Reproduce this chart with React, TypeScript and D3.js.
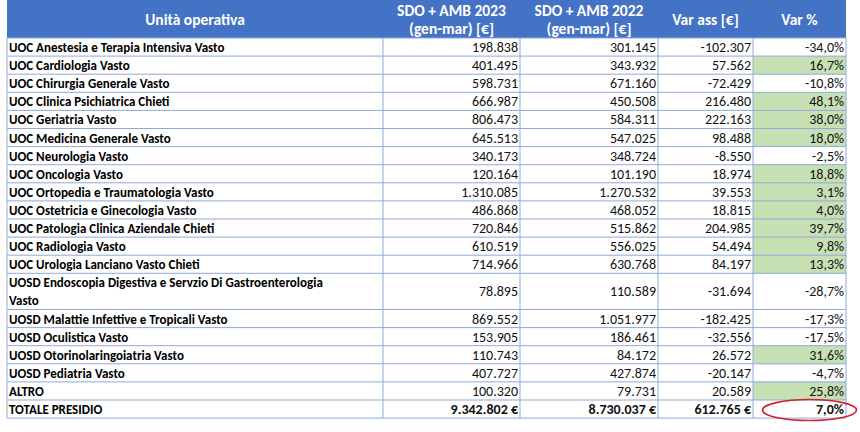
import React from "react";
import * as d3 from "d3";

const units: string[] = [
  "UOC Anestesia e Terapia Intensiva Vasto",
  "UOC Cardiologia Vasto",
  "UOC Chirurgia Generale Vasto",
  "UOC Clinica Psichiatrica Chieti",
  "UOC Geriatria Vasto",
  "UOC Medicina Generale Vasto",
  "UOC Neurologia Vasto",
  "UOC Oncologia Vasto",
  "UOC Ortopedia e Traumatologia Vasto",
  "UOC Ostetricia e Ginecologia Vasto",
  "UOC Patologia Clinica Aziendale Chieti",
  "UOC Radiologia Vasto",
  "UOC Urologia Lanciano Vasto Chieti",
  "UOSD Endoscopia Digestiva e Servzio Di Gastroenterologia|Vasto",
  "UOSD Malattie Infettive e Tropicali Vasto",
  "UOSD Oculistica Vasto",
  "UOSD Otorinolaringoiatria Vasto",
  "UOSD Pediatria Vasto",
  "ALTRO",
];
const sdo2023: number[] = [198838, 401495, 598731, 666987, 806473, 645513, 340173, 120164, 1310085, 486868, 720846, 610519, 714966, 78895, 869552, 153905, 110743, 407727, 100320];
const sdo2022: number[] = [301145, 343932, 671160, 450508, 584311, 547025, 348724, 101190, 1270532, 468052, 515862, 556025, 630768, 110589, 1051977, 186461, 84172, 427874, 79731];
const varAss: number[] = [-102307, 57562, -72429, 216480, 222163, 98488, -8550, 18974, 39553, 18815, 204985, 54494, 84197, -31694, -182425, -32556, 26572, -20147, 20589];
const varPct: number[] = [-34.0, 16.7, -10.8, 48.1, 38.0, 18.0, -2.5, 18.8, 3.1, 4.0, 39.7, 9.8, 13.3, -28.7, -17.3, -17.5, 31.6, -4.7, 25.8];
const totalLabel = "TOTALE PRESIDIO";
const total2023 = 9342802;
const total2022 = 8730037;
const totalVarAss = 612765;
const totalVarPct = 7.0;
const headers: string[][] = [
  ["Unità operativa"],
  ["SDO + AMB 2023", "(gen-mar) [€]"],
  ["SDO + AMB 2022", "(gen-mar) [€]"],
  ["Var ass [€]"],
  ["Var %"],
];

const locale = d3.formatLocale({
  decimal: ",",
  thousands: ".",
  grouping: [3],
  currency: ["", " €"],
  minus: "-",
});
const fmtInt = locale.format(",d");
const fmtEur = locale.format("$,d");
const fmtPct = (v: number) => locale.format(".1f")(v) + "%";

const FONT = "Carlito, Lato, 'Open Sans', sans-serif";
const W = 860;
const H = 432;
const colEdges = [7, 383, 520, 658, 753, 846];
const headerTop = 0;
const headerBottom = 38;
const rowH = 18.1;

type Row = { label: string[]; a: string; b: string; c: string; d: string; green: boolean; bold: boolean; units: number };

export default function App() {
  const rows: Row[] = units.map((u, i) => ({
    label: u.split("|"),
    a: fmtInt(sdo2023[i]),
    b: fmtInt(sdo2022[i]),
    c: fmtInt(varAss[i]),
    d: fmtPct(varPct[i]),
    green: varPct[i] > 0,
    bold: false,
    units: u.includes("|") ? 2 : 1,
  }));
  rows.push({
    label: [totalLabel],
    a: fmtEur(total2023),
    b: fmtEur(total2022),
    c: fmtEur(totalVarAss),
    d: fmtPct(totalVarPct),
    green: false,
    bold: true,
    units: 1,
  });
  const cum: number[] = [0];
  rows.forEach((r) => cum.push(cum[cum.length - 1] + r.units));
  const y = d3.scaleLinear().domain([0, cum[cum.length - 1]]).range([headerBottom, headerBottom + rowH * cum[cum.length - 1]]);
  const tableBottom = y(cum[cum.length - 1]);
  const gridColor = "#8EA9DB";

  return (
    <svg width={W} height={H} style={{ position: "absolute", left: 0, top: 0, background: "#fff" }} fontFamily={FONT}>
      <rect x={colEdges[0]} y={headerTop} width={colEdges[5] - colEdges[0]} height={headerBottom - headerTop} fill="#4472C4" />
      {headers.map((h, ci) => {
        const cx = (colEdges[ci] + colEdges[ci + 1]) / 2;
        const cy = (headerTop + headerBottom) / 2;
        return (
          <text key={ci} x={cx} textAnchor="middle" fill="#fff" fontWeight="bold" fontSize={15.5}>
            {h.map((line, li) => (
              <tspan key={li} x={cx} y={cy + (li - (h.length - 1) / 2) * 18} dominantBaseline="central">
                {line}
              </tspan>
            ))}
          </text>
        );
      })}
      {rows.map((r, i) => {
        const y0 = y(cum[i]);
        const y1 = y(cum[i + 1]);
        const cy = (y0 + y1) / 2 + 0.5;
        const vals = [r.a, r.b, r.c, r.d];
        return (
          <g key={i}>
            {r.green && <rect x={colEdges[4]} y={y0} width={colEdges[5] - colEdges[4]} height={y1 - y0} fill="#C6E0B4" />}
            <text x={colEdges[0] + 2} fontWeight="bold" fontSize={13} fill="#000">
              {r.label.map((line, li) => (
                <tspan key={li} x={colEdges[0] + 2} y={cy + (li - (r.label.length - 1) / 2) * rowH} dominantBaseline="central">
                  {line}
                </tspan>
              ))}
            </text>
            {vals.map((v, vi) => (
              <text key={vi} x={colEdges[vi + 2] - 2} y={cy} textAnchor="end" dominantBaseline="central" fontSize={14} fontWeight={r.bold ? "bold" : "normal"} fill="#111">
                {v}
              </text>
            ))}
          </g>
        );
      })}
      {cum.map((c, i) => (
        <line key={"h" + i} x1={colEdges[0]} x2={colEdges[5]} y1={y(c)} y2={y(c)} stroke={gridColor} strokeWidth={1} />
      ))}
      {colEdges.map((x, i) => (
        <line key={"v" + i} x1={x} x2={x} y1={headerBottom} y2={tableBottom} stroke={gridColor} strokeWidth={1} />
      ))}
      <ellipse
        cx={(colEdges[4] + colEdges[5]) / 2 + 10}
        cy={(y(cum[cum.length - 2]) + tableBottom) / 2 + 1}
        rx={47}
        ry={10.5}
        fill="none"
        stroke="#D0202A"
        strokeWidth={1.6}
      />
    </svg>
  );
}
